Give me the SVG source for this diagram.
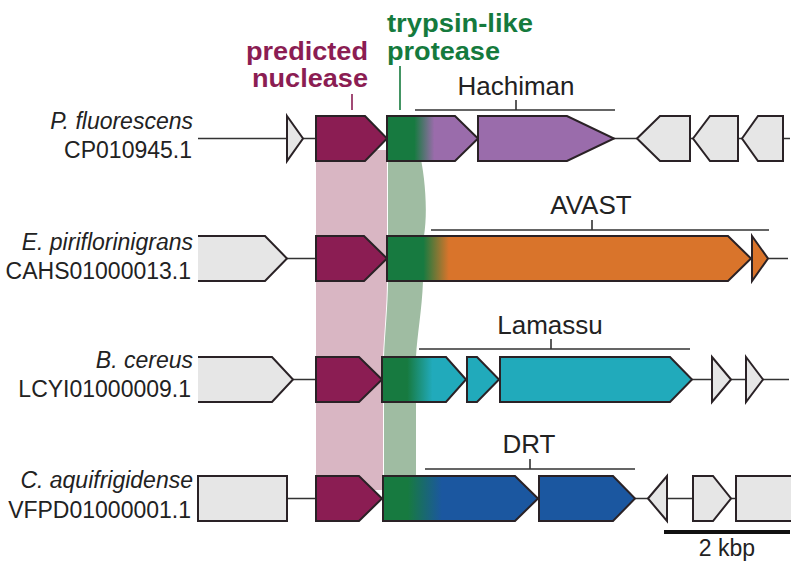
<svg xmlns="http://www.w3.org/2000/svg" width="799" height="572" viewBox="0 0 799 572">
<defs>
<linearGradient id="g1" gradientUnits="userSpaceOnUse" x1="387" y1="0" x2="478" y2="0"><stop offset="0.3" stop-color="#177a40"/><stop offset="0.52" stop-color="#9a6cab"/></linearGradient>
<linearGradient id="g2" gradientUnits="userSpaceOnUse" x1="387" y1="0" x2="751" y2="0"><stop offset="0.1" stop-color="#177a40"/><stop offset="0.17" stop-color="#d9742b"/></linearGradient>
<linearGradient id="g3" gradientUnits="userSpaceOnUse" x1="382" y1="0" x2="466" y2="0"><stop offset="0.3" stop-color="#177a40"/><stop offset="0.6" stop-color="#21aabb"/></linearGradient>
<linearGradient id="g4" gradientUnits="userSpaceOnUse" x1="383" y1="0" x2="538" y2="0"><stop offset="0.16" stop-color="#177a40"/><stop offset="0.38" stop-color="#1b57a0"/></linearGradient>
<style>
.lab{font-family:"Liberation Sans",Arial,sans-serif;font-size:23px;fill:#222;text-anchor:end}
.it{font-style:italic}
.sys{font-family:"Liberation Sans",Arial,sans-serif;font-size:26px;fill:#222;text-anchor:middle}
.ttl{font-family:"Liberation Sans",Arial,sans-serif;font-size:25px;font-weight:bold}
.bb{stroke:#333;stroke-width:1.6;fill:none}
.gene{stroke:#2a2226;stroke-width:2;stroke-linejoin:miter}
.gray{fill:#e6e6e6}
.nuc{fill:#8b1d53}
.pur{fill:#9a6cab}
.ora{fill:#d9742b}
.tea{fill:#21aabb}
.blu{fill:#1b57a0}
.brk{stroke:#333;stroke-width:1.6;fill:none}
</style>
</defs>

<g id="bands">
<path d="M316,150 L387,150 L387,281 C387,305 384,335 383,357 L383,490 L316,490 Z" fill="#d9b6c3"/>
<path d="M388,150 L419,150 C425,175 428,210 424,236 L423,281 C422,310 417,335 416,357 L416,490 L384,490 L384,357 C385,332 388,305 388,281 Z" fill="#9fbca2"/>
</g>

<g id="connectors">
<line class="bb" x1="198" y1="138.5" x2="790" y2="138.5"/>
<line class="bb" x1="285" y1="258.5" x2="788" y2="258.5"/>
<line class="bb" x1="290" y1="379.5" x2="789" y2="379.5"/>
<line class="bb" x1="287" y1="498.5" x2="736" y2="498.5"/>
</g>

<g id="titles">
<text class="ttl" x="368" y="60" text-anchor="end" fill="#8b1d53" textLength="122" lengthAdjust="spacingAndGlyphs">predicted</text>
<text class="ttl" x="368" y="87" text-anchor="end" fill="#8b1d53" textLength="116" lengthAdjust="spacingAndGlyphs">nuclease</text>
<line x1="352" y1="94" x2="352" y2="110" stroke="#8b1d53" stroke-width="1.6"/>
<text class="ttl" x="387" y="32" fill="#157a3d" textLength="146" lengthAdjust="spacingAndGlyphs">trypsin-like</text>
<text class="ttl" x="387" y="60" fill="#157a3d" textLength="113" lengthAdjust="spacingAndGlyphs">protease</text>
<line x1="400" y1="66" x2="400" y2="110" stroke="#157a3d" stroke-width="1.6"/>
</g>

<g id="row1">
<text class="lab it" x="193" y="129">P. fluorescens</text>
<text class="lab" x="192" y="158">CP010945.1</text>
<path class="gene gray" d="M287,116 L303,138.5 L287,161 Z"/>
<path class="gene nuc" d="M316,116 L365,116 L387,138.5 L365,161 L316,161 Z"/>
<path class="gene" fill="url(#g1)" d="M387,116 L455,116 L478,138.5 L455,161 L387,161 Z"/>
<path class="gene pur" d="M478,116 L567,116 L614,138.5 L567,161 L478,161 Z"/>
<path class="gene gray" d="M637,138.5 L660,116 L690,116 L690,161 L660,161 Z"/>
<path class="gene gray" d="M693,138.5 L710,116 L738,116 L738,161 L710,161 Z"/>
<path class="gene gray" d="M742,138.5 L758,116 L783,116 L783,161 L758,161 Z"/>
<path class="brk" d="M415,110 L615,110 M516,100 L516,110"/>
<text class="sys" x="516" y="95">Hachiman</text>
</g>

<g id="row2">
<text class="lab it" x="193" y="250">E. piriflorinigrans</text>
<text class="lab" x="191" y="279">CAHS01000013.1</text>
<path class="gray" d="M198,236 L265,236 L287,258.5 L265,281 L198,281 Z"/>
<path class="gene" fill="none" d="M198,236 L265,236 L287,258.5 L265,281 L198,281"/>
<path class="gene nuc" d="M316,236 L364,236 L387,258.5 L364,281 L316,281 Z"/>
<path class="gene" fill="url(#g2)" d="M387,236 L728,236 L751,258.5 L728,281 L387,281 Z"/>
<path class="gene ora" d="M752,236 L768,258.5 L752,281 Z"/>
<path class="brk" d="M431,230 L769,230 M592,220 L592,230"/>
<text class="sys" x="591" y="214">AVAST</text>
</g>

<g id="row3">
<text class="lab it" x="193" y="368">B. cereus</text>
<text class="lab" x="191" y="397">LCYI01000009.1</text>
<path class="gray" d="M198,357 L272,357 L293,379.5 L272,402 L198,402 Z"/>
<path class="gene" fill="none" d="M198,357 L272,357 L293,379.5 L272,402 L198,402"/>
<path class="gene nuc" d="M316,357 L359,357 L382,379.5 L359,402 L316,402 Z"/>
<path class="gene" fill="url(#g3)" d="M382,357 L446,357 L466,379.5 L446,402 L382,402 Z"/>
<path class="gene tea" d="M467,357 L477,357 L499,379.5 L477,402 L467,402 Z"/>
<path class="gene tea" d="M500,357 L670,357 L692,379.5 L670,402 L500,402 Z"/>
<path class="gene gray" d="M712,357 L731,379.5 L712,402 Z"/>
<path class="gene gray" d="M746,357 L763,379.5 L746,402 Z"/>
<path class="brk" d="M419,349 L690,349 M551,339 L551,349"/>
<text class="sys" x="550" y="334">Lamassu</text>
</g>

<g id="row4">
<text class="lab it" x="193" y="488">C. aquifrigidense</text>
<text class="lab" x="191" y="518">VFPD01000001.1</text>
<path class="gene gray" d="M198,476 L287,476 L287,521 L198,521 Z"/>
<path class="gene nuc" d="M316,476 L359,476 L382,498.5 L359,521 L316,521 Z"/>
<path class="gene" fill="url(#g4)" d="M383,476 L515,476 L538,498.5 L515,521 L383,521 Z"/>
<path class="gene blu" d="M539,476 L613,476 L635,498.5 L613,521 L539,521 Z"/>
<path class="gene gray" d="M648,498.5 L667,476 L667,521 Z"/>
<path class="gene gray" d="M693,476 L713,476 L731,498.5 L713,521 L693,521 Z"/>
<path class="gray" d="M736,476 L791,476 L791,521 L736,521 Z"/>
<path class="gene" fill="none" d="M791,476 L736,476 L736,521 L791,521"/>
<path class="brk" d="M425,469 L635,469 M530,459 L530,469"/>
<text class="sys" x="529" y="453">DRT</text>
</g>

<g id="scale">
<line x1="664" y1="532" x2="790" y2="532" stroke="#111" stroke-width="4"/>
<text class="sys" x="727" y="556" style="font-size:23px">2 kbp</text>
</g>
</svg>
